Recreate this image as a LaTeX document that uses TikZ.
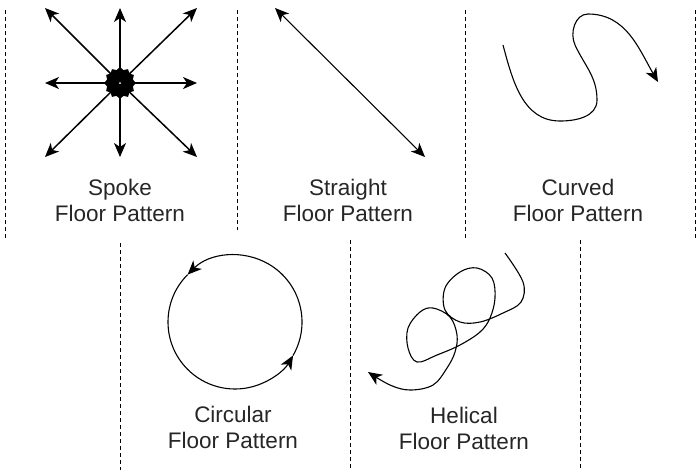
\documentclass[tikz,border=0pt]{standalone}
\usepackage{fontspec}
\setmainfont{Liberation Sans}
\usetikzlibrary{arrows.meta,positioning,shapes.geometric}

\begin{document}
\begin{tikzpicture}[
  x=1pt, y=-1pt,
  font=\fontsize{22.5}{26}\selectfont,
  divider/.style={line width=1pt, dash pattern=on 4pt off 3pt},
  caption/.style={align=center, inner sep=0pt, text=black!85},
  spoke/.style={-{Stealth[length=14pt, width=12pt, inset=4pt]}, line width=1.5pt},
  trail/.style={-{Stealth[length=14pt, width=12pt, inset=4pt]}, line width=1.1pt},
  hubstar/.style={star, star points=12, star point ratio=1.2, fill=black,
    minimum size=32pt, inner sep=0pt}
]

\useasboundingbox (0,0) rectangle (700,472);

% dividers, top row
\draw[divider] (5,10) -- (5,238);
\draw[divider] (237,10) -- (237,230);
\draw[divider] (465,10) -- (465,238);
\draw[divider] (695,10) -- (695,238);
% dividers, bottom row
\draw[divider] (120,243) -- (120,470);
\draw[divider] (350,240) -- (350,470);
\draw[divider] (580,240) -- (580,470);

% spoke
\coordinate (hub) at (120,83);
\foreach \px/\py in {45/8, 120/8, 197/8, 45/83, 197/83, 45/157, 120/157, 197/157}
  \draw[spoke] (hub) -- (\px,\py);
\node[hubstar] (blob) at (hub) {};
\fill[white] (hub) circle (1pt);
\node[caption] (spokecap) at (120,200) {Spoke\\Floor Pattern};

% straight
\coordinate (stA) at (275,8);
\coordinate (stB) at (425,157);
\draw[trail, {Stealth[length=14pt, width=12pt, inset=4pt]}-{Stealth[length=14pt, width=12pt, inset=4pt]}] (stA) -- (stB);
\node[caption] (straightcap) at (348,200) {Straight\\Floor Pattern};

% curved
\coordinate (cvA) at (503,45);
\coordinate (cvB) at (658,82);
\draw[trail] (cvA) to[out=-75, in=180] (560,121) to[out=0, in=-90] (597,100)
  to[out=90, in=-65] (575,45) to[out=115, in=180] (588,14) to[out=0, in=120] (cvB);
\node[caption] (curvedcap) at (578,200) {Curved\\Floor Pattern};

% circular
\coordinate (ring) at (235,322);
\draw[trail] (ring) ++(30:67) arc[start angle=30, end angle=-135, radius=67];
\draw[trail] (ring) ++(-135:67) arc[start angle=-135, end angle=-330, radius=67];
\node[caption] (circularcap) at (233,427) {Circular\\Floor Pattern};

% helical
\coordinate (hxA) at (505,253);
\coordinate (hxB) at (368,372);
\draw[trail] plot[smooth, tension=0.6] coordinates {
  (hxA) (523,282) (521,302) (503,313) (480,322) (460,322) (445,310) (445,288)
  (460,272) (477,268) (492,278) (495,298) (490,318) (480,332) (460,345)
  (437,355) (417,362) (408,348) (408,328) (420,312) (433,308) (450,317)
  (457,335) (455,352) (447,368) (433,385) (410,390) (390,385) (hxB)};
\node[caption] (helicalcap) at (464,428) {Helical\\Floor Pattern};

\end{tikzpicture}
\end{document}
